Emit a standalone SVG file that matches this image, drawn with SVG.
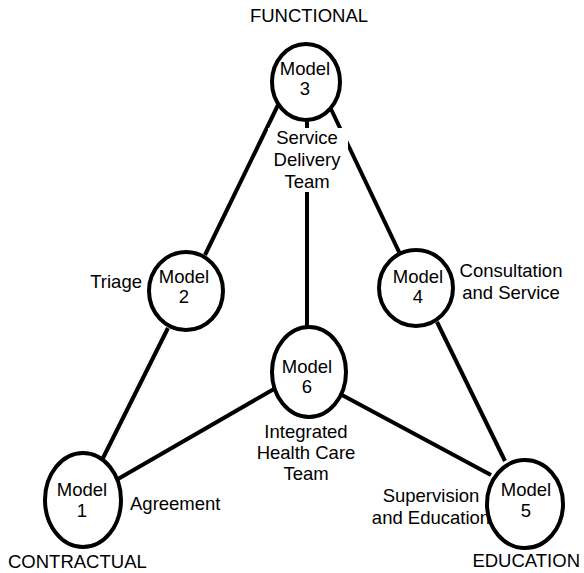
<svg xmlns="http://www.w3.org/2000/svg" width="584" height="573" viewBox="0 0 584 573">
<style>
text{font-family:"Liberation Sans",Arial,sans-serif;font-size:18.5px;fill:#000}
.m{text-anchor:middle}
.e{text-anchor:end}
.node ellipse{fill:#fff;stroke:#000;stroke-width:4}
#connectors line{stroke:#000;stroke-width:4;stroke-linecap:butt}
</style>
<rect width="584" height="573" fill="#fff"/>
<g id="connectors">
<line x1="278" y1="105" x2="205" y2="255"/>
<line x1="330" y1="107" x2="401" y2="256"/>
<line x1="307" y1="118" x2="307" y2="330"/>
<line x1="168" y1="328" x2="103" y2="458"/>
<line x1="437" y1="322" x2="505" y2="461"/>
<line x1="118" y1="479" x2="274" y2="389"/>
<line x1="342" y1="395" x2="491" y2="475"/>
</g>
<g id="label-service">
<rect x="268" y="128" width="80" height="64" fill="#fff"/>
<text class="m" x="307" y="144">Service</text>
<text class="m" x="307" y="166">Delivery</text>
<text class="m" x="307" y="188">Team</text>
</g>
<g id="model3" class="node">
<ellipse cx="306" cy="82" rx="34" ry="38"/>
<text class="m" x="305" y="75">Model</text>
<text class="m" x="305" y="95">3</text>
</g>
<g id="model2" class="node">
<ellipse cx="186" cy="291" rx="37" ry="39"/>
<text class="m" x="184" y="283">Model</text>
<text class="m" x="184" y="303">2</text>
</g>
<g id="model4" class="node">
<ellipse cx="416" cy="288" rx="37" ry="38"/>
<text class="m" x="418" y="283">Model</text>
<text class="m" x="418" y="303">4</text>
</g>
<g id="model6" class="node">
<ellipse cx="309" cy="372" rx="37" ry="45"/>
<text class="m" x="307" y="373">Model</text>
<text class="m" x="307" y="393">6</text>
</g>
<g id="model1" class="node">
<ellipse cx="83" cy="500" rx="38" ry="47"/>
<text class="m" x="82" y="496">Model</text>
<text class="m" x="82" y="517">1</text>
</g>
<g id="model5" class="node">
<ellipse cx="525" cy="504" rx="38" ry="44"/>
<text class="m" x="526" y="496">Model</text>
<text class="m" x="526" y="517">5</text>
</g>
<g id="labels">
<text x="309" y="22" class="m">FUNCTIONAL</text>
<text x="8" y="568">CONTRACTUAL</text>
<text x="580" y="567" class="e">EDUCATION</text>
<text x="142" y="288" class="e">Triage</text>
<text x="511" y="277" class="m">Consultation</text>
<text x="511" y="299" class="m">and Service</text>
<text x="130" y="510">Agreement</text>
<text x="431" y="502" class="m">Supervision</text>
<text x="431" y="524" class="m">and Education</text>
<text x="306" y="438" class="m">Integrated</text>
<text x="306" y="459" class="m">Health Care</text>
<text x="306" y="480" class="m">Team</text>
</g>
</svg>
